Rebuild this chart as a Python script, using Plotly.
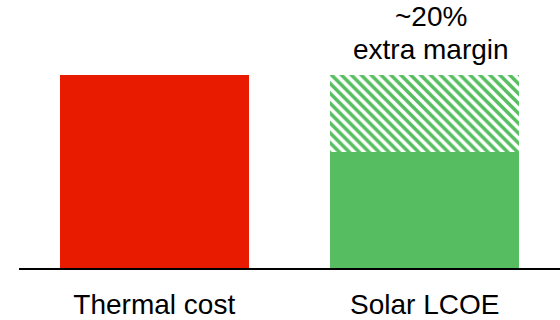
import plotly.graph_objects as go

categories = ["Thermal cost", "Solar LCOE"]
base_values = [1.0, 0.6]
margin_values = [0.0, 0.4]
annotation_lines = ["~20%", "extra margin"]

RED = "#E81A00"
GREEN = "#56BE60"
FONT = "Liberation Sans, Arial, sans-serif"

fig = go.Figure()
fig.add_trace(go.Bar(
    x=categories, y=base_values,
    marker=dict(color=[RED, GREEN], line=dict(width=0)),
    showlegend=False, hoverinfo="skip",
))
fig.add_trace(go.Bar(
    x=categories, y=margin_values,
    marker=dict(color="white", line=dict(width=0),
                pattern=dict(shape="\\", fgcolor=GREEN, bgcolor="white",
                             size=7, solidity=0.5, fillmode="replace",
                             fgopacity=1)),
    showlegend=False, hoverinfo="skip",
))

top = base_values[1] + margin_values[1]
for line, shift in zip(annotation_lines, [41, 8]):
    fig.add_annotation(
        x=categories[1], y=top,
        text=line, showarrow=False,
        xanchor="center", yanchor="bottom", yshift=shift, xshift=6,
        font=dict(family=FONT, size=28, color="black"),
    )

fig.update_layout(
    width=560, height=320,
    margin=dict(l=19, r=0, t=0, b=50),
    paper_bgcolor="white", plot_bgcolor="white",
    barmode="stack", bargap=0.3,
    font=dict(family=FONT, size=28, color="black"),
    xaxis=dict(showline=True, linecolor="black", linewidth=2,
               ticks="", showgrid=False, zeroline=False,
               ticklabelstandoff=10,
               tickfont=dict(family=FONT, size=28, color="black")),
    yaxis=dict(range=[0, 1.392], visible=False, showgrid=False, zeroline=False),
)

fig.write_html("out.html")
